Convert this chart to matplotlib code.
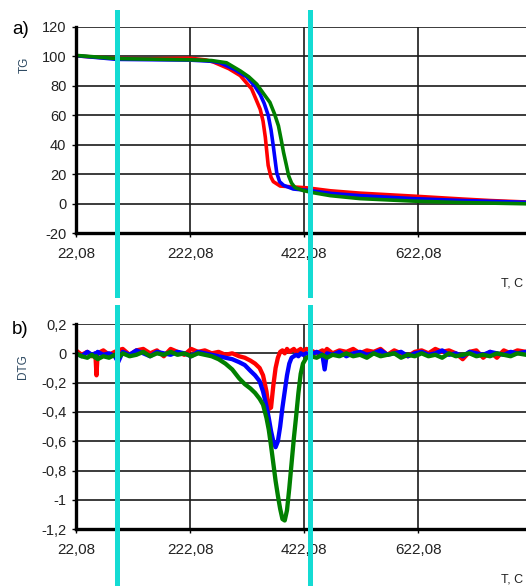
import matplotlib
matplotlib.use("Agg")
import matplotlib.pyplot as plt

plt.rcParams['font.family'] = ['Liberation Sans', 'DejaVu Sans']
plt.rcParams['axes.unicode_minus'] = False

# TG curves (mass, %) vs temperature, one list pair per sample
tg_red_t = [22, 60, 94, 150, 222, 250, 263, 290, 310, 330, 345, 350, 354, 359, 364, 368, 380, 427, 468, 520, 613, 700, 748, 811]
tg_red = [100.2, 99.2, 98.4, 98.2, 98.6, 97.4, 96, 91.5, 86.8, 77.8, 64, 56, 45, 26, 18, 15, 12, 10.8, 8.8, 7.2, 5.2, 3.2, 2.2, 1.2]

tg_blue_t = [22, 94, 222, 260, 275, 300, 321, 335, 345, 352, 359, 364, 368, 371, 374, 379, 386, 403, 430, 470, 520, 613, 700, 811]
tg_blue = [100.3, 97.8, 97.3, 96.5, 95.5, 91, 86, 80, 74, 68, 60, 50, 39, 30, 21, 15, 12.5, 10, 9, 7, 5.5, 3.5, 2.2, 1]

tg_green_t = [22, 94, 222, 260, 286, 310, 325, 339, 352, 362, 370, 377, 382, 386, 391, 395, 400, 406, 420, 438, 468, 520, 613, 700, 811]
tg_green = [100.5, 98.3, 97.5, 97, 95.5, 90, 86, 81, 74, 68.7, 61, 52.8, 43, 34.7, 26, 18.8, 14, 11, 9, 7.5, 5.5, 3.5, 1.8, 0.8, 0]

# DTG curves share one temperature grid
dtg_t = [22, 32, 42, 50, 56, 58, 60, 70, 80, 90,
         96, 104, 116, 128, 140, 152, 164, 176, 188, 200,
         212, 224, 236, 248, 260, 272, 284, 296, 308, 318,
         328, 336, 344, 350, 356, 360, 364, 368, 372, 376,
         380, 384, 388, 392, 396, 400, 404, 408, 412, 416,
         420, 426, 434, 444, 454, 458, 462, 472, 484, 496,
         508, 520, 532, 544, 556, 568, 580, 592, 604, 616,
         628, 640, 652, 664, 676, 688, 700, 712, 724, 736,
         748, 760, 772, 784, 796, 811]

dtg_red = [0.02, -0.01, 0.01, -0.02, 0.0, -0.15, 0.0, 0.02, -0.01, 0.01,
           0.02, 0.03, -0.01, 0.02, 0.03, 0.0, 0.02, -0.02, 0.03, 0.01,
           -0.01, 0.03, 0.01, 0.02, 0.0, 0.01, -0.01, 0.0, -0.02, -0.03,
           -0.05, -0.07, -0.1, -0.15, -0.26, -0.38, -0.37, -0.22, -0.1, -0.03,
           0.01, 0.02, 0.0, 0.03, 0.01, 0.02, 0.03, 0.01, 0.02, 0.03,
           0.01, 0.03, 0.02, 0.0, 0.02, 0.01, 0.03, 0.0, 0.02, 0.01,
           0.03, 0.0, 0.02, 0.01, 0.03, -0.01, 0.02, 0.0, -0.02, 0.01,
           0.02, 0.0, 0.03, 0.01, 0.02, 0.0, -0.04, 0.01, 0.02, -0.03,
           0.01, -0.03, 0.02, 0.0, 0.02, 0.01]

dtg_blue = [0.0, -0.02, 0.01, -0.01, 0.0, -0.02, 0.01, -0.01, 0.0, -0.02,
            -0.06, 0.01, -0.01, 0.02, 0.0, -0.02, 0.01, 0.0, -0.01, 0.01,
            0.0, -0.02, 0.01, 0.0, -0.01, -0.02, -0.03, -0.04, -0.06, -0.08,
            -0.12, -0.15, -0.19, -0.26, -0.36, -0.44, -0.53, -0.6, -0.64, -0.6,
            -0.5, -0.37, -0.26, -0.15, -0.07, -0.03, -0.02, -0.01, -0.02, 0.0,
            -0.01, 0.0, -0.01, 0.01, -0.01, -0.11, 0.0, -0.01, 0.01, -0.02,
            0.0, 0.01, -0.01, 0.0, 0.02, -0.01, 0.0, 0.01, -0.02, 0.0,
            0.01, -0.01, 0.0, 0.02, -0.01, 0.0, -0.02, 0.01, 0.0, -0.01,
            0.01, 0.0, -0.01, 0.01, 0.0, 0.01]

dtg_green = [0.0, -0.02, -0.03, -0.01, -0.03, -0.02, -0.04, -0.02, -0.03, -0.01,
             -0.03, 0.0, -0.02, -0.01, 0.01, -0.02, 0.0, -0.01, 0.01, -0.01,
             0.0, -0.02, 0.0, -0.01, -0.02, -0.04, -0.07, -0.11, -0.17, -0.21,
             -0.24, -0.27, -0.31, -0.35, -0.44, -0.52, -0.63, -0.75, -0.87, -0.97,
             -1.06, -1.13, -1.14, -1.07, -0.92, -0.75, -0.58, -0.43, -0.27, -0.14,
             -0.07, -0.03, -0.02, -0.03, -0.01, -0.02, -0.03, -0.01, -0.02, 0.0,
             -0.02, -0.01, -0.03, 0.0, -0.02, -0.01, 0.0, -0.03, -0.01, -0.02,
             0.0, -0.02, -0.01, -0.03, 0.0, -0.02, -0.01, 0.0, -0.02, -0.01,
             -0.02, 0.0, -0.01, -0.02, 0.0, -0.01]

x_ticks = [22.08, 222.08, 422.08, 622.08]
x_labels = ["22,08", "222,08", "422,08", "622,08"]
tg_ticks = [-20, 0, 20, 40, 60, 80, 100, 120]
dtg_ticks = [-1.2, -1.0, -0.8, -0.6, -0.4, -0.2, 0.0, 0.2]
dtg_labels = ["-1,2", "-1", "-0,8", "-0,6", "-0,4", "-0,2", "0", "0,2"]
markers_t = [94, 432]   # vertical marker lines

W, H = 526, 586
fig = plt.figure(figsize=(W / 100, H / 100), dpi=100)
ax1 = fig.add_axes([76 / W, 1 - 233.3 / H, 450 / W, 206.7 / H])
ax2 = fig.add_axes([76 / W, 1 - 529.3 / H, 450 / W, 205.3 / H])

def style_axes(ax):
    ax.set_xlim(22.08, 811)
    ax.set_xticks(x_ticks)
    ax.set_xticklabels(x_labels)
    ax.grid(True, color="#1a1a1a", linewidth=1.2)
    ax.set_axisbelow(True)
    for s in ("top", "right"):
        ax.spines[s].set_visible(False)
    for s in ("left", "bottom"):
        ax.spines[s].set_linewidth(2.4)
        ax.spines[s].set_color("black")
        ax.spines[s].set_zorder(5)
    ax.tick_params(direction="out", length=3, width=1, labelcolor="#222222")
    ax.tick_params(axis="x", pad=7, labelsize=11)
    ax.tick_params(axis="y", pad=4, labelsize=10.5)

lw = 2.6
ax1.plot(tg_red_t, tg_red, color="#ff0000", lw=lw, zorder=3)
ax1.plot(tg_blue_t, tg_blue, color="#0000ff", lw=lw, zorder=3)
ax1.plot(tg_green_t, tg_green, color="#008000", lw=lw, zorder=3)
ax1.set_ylim(-20, 120)
ax1.set_yticks(tg_ticks)
style_axes(ax1)

lw_dtg = 3.1
ax2.plot(dtg_t, dtg_red, color="#ff0000", lw=lw_dtg, zorder=3)
ax2.plot(dtg_t, dtg_blue, color="#0000ff", lw=lw_dtg, zorder=3)
ax2.plot(dtg_t, dtg_green, color="#008000", lw=lw_dtg, zorder=3)
ax2.set_ylim(-1.2, 0.2)
ax2.set_yticks(dtg_ticks)
ax2.set_yticklabels(dtg_labels)
style_axes(ax2)

# cyan markers run past the axes edges
for t in markers_t:
    ax1.axvline(t, ymin=-0.30, ymax=1.07, color="#14dbd3", lw=3.6,
                clip_on=False, zorder=6)
    ax2.axvline(t, ymin=-0.28, ymax=1.083, color="#14dbd3", lw=3.6,
                clip_on=False, zorder=6)

fig.text(12 / W, 1 - 30 / H, "a)", fontsize=13.5, ha="left", va="center")
fig.text(12 / W, 1 - 330 / H, "b)", fontsize=13.5, ha="left", va="center")
fig.text(25 / W, 1 - 65 / H, "TG", fontsize=8.5, rotation=90,
         ha="center", va="center", color="#2e4a62")
fig.text(23 / W, 1 - 367 / H, "DTG", fontsize=8.5, rotation=90,
         ha="center", va="center", color="#2e4a62")
fig.text(523 / W, 1 - 283 / H, "T, C", fontsize=9, ha="right",
         va="center", color="#222222")
fig.text(523 / W, 1 - 579 / H, "T, C", fontsize=9, ha="right",
         va="center", color="#222222")

fig.savefig("out.png", dpi=100)
